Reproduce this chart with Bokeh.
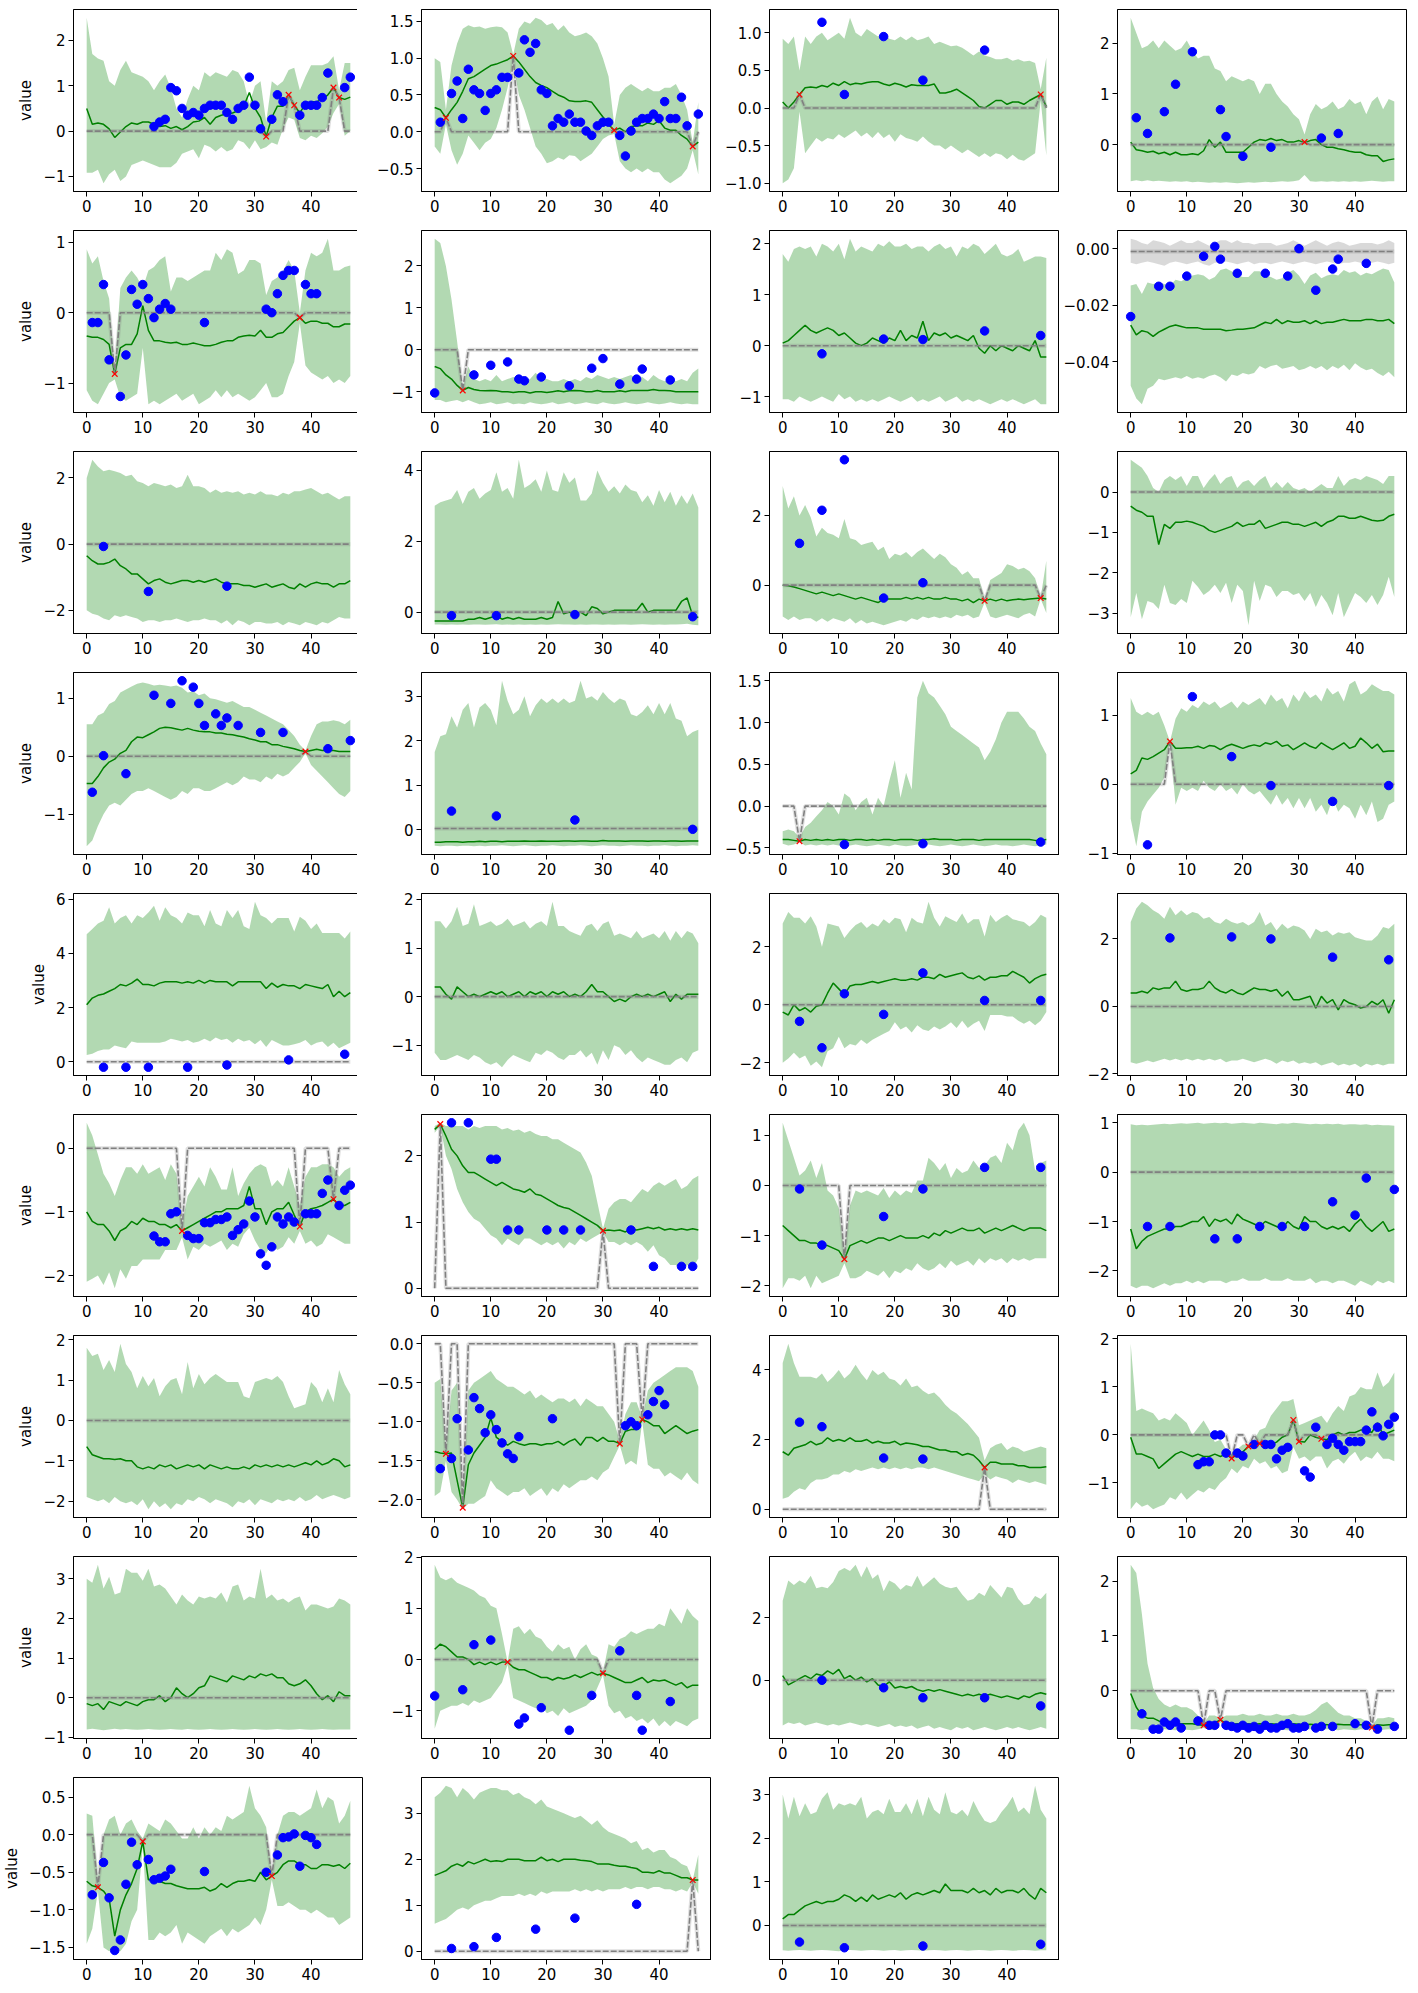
from bokeh.plotting import figure
from bokeh.layouts import gridplot
from bokeh.models import Range1d, FixedTicker, CustomJSTickFormatter
from bokeh.embed import file_html
from bokeh.resources import INLINE

STEPS = list(range(48))
X_TICKS = [0, 10, 20, 30, 40]

# ---------------- panel 1 ----------------
p01_mean = [0.50, 0.15, 0.18, 0.15, 0.05, -0.14, -0.02, 0.10, 0.18, 0.15, 0.20, 0.20, 0.15, 0.10, 0.12, 0.06,
            0.10, 0.03, 0.10, 0.20, 0.22, 0.30, 0.15, 0.30, 0.35, 0.38, 0.40, 0.45, 0.55, 0.85, 0.50, 0.30,
            -0.12, 0.30, 0.55, 0.55, 0.80, 0.57, 0.40, 0.60, 0.65, 0.65, 0.70, 0.80, 0.96, 0.74, 0.70, 0.75]
p01_upper = [2.50, 1.70, 1.60, 1.55, 1.10, 1.00, 1.35, 1.55, 1.30, 1.25, 1.20, 1.10, 0.90, 1.10, 1.25, 0.95,
             0.50, 0.30, 0.70, 1.00, 0.90, 1.30, 1.20, 1.30, 1.25, 1.20, 1.35, 1.30, 1.10, 0.60, 1.00, 1.10,
             0.20, 1.10, 1.00, 1.10, 1.35, 1.40, 0.90, 1.20, 1.45, 1.45, 1.45, 1.50, 1.65, 0.90, 1.50, 1.50]
p01_lower = [-0.92, -0.92, -0.85, -1.15, -0.95, -0.85, -1.10, -1.00, -0.75, -0.70, -0.65, -0.70, -0.75, -0.80, -0.80, -0.80,
             -0.70, -0.50, -0.45, -0.40, -0.60, -0.30, -0.35, -0.45, -0.35, -0.45, -0.40, -0.20, -0.25, -0.40, -0.20, -0.40,
             -0.35, -0.25, -0.30, 0.05, 0.30, 0.25, -0.15, -0.20, -0.10, -0.15, -0.05, 0.10, 0.40, 0.60, -0.10, 0.00]
p01_obs_x = [12, 13, 14, 15, 16, 17, 18, 19, 20, 21, 22, 23, 24, 25, 26, 27, 28, 29, 30, 31, 33, 34, 35, 38, 39, 40, 41, 42, 43, 46, 47]
p01_obs_y = [0.10, 0.20, 0.26, 0.96, 0.89, 0.50, 0.35, 0.41, 0.35, 0.50, 0.57, 0.57, 0.57, 0.41, 0.26, 0.50, 0.57, 1.19, 0.57, 0.05,
             0.26, 0.80, 0.65, 0.35, 0.57, 0.57, 0.57, 0.74, 1.28, 0.96, 1.19]
p01_anom_x = [32, 36, 37, 44, 45]
p01_anom_y = [-0.12, 0.80, 0.57, 0.96, 0.74]
p01_yticks = [-1, 0, 1, 2]
p01_ydec = 0

# ---------------- panel 2 ----------------
p02_mean = [0.33, 0.30, 0.19, 0.30, 0.40, 0.55, 0.72, 0.75, 0.80, 0.85, 0.90, 0.92, 0.95, 0.98, 1.03, 0.95,
            0.85, 0.75, 0.67, 0.63, 0.60, 0.55, 0.50, 0.47, 0.42, 0.41, 0.41, 0.42, 0.40, 0.30, 0.20, 0.10,
            0.02, 0.05, 0.00, 0.07, 0.08, 0.08, 0.12, 0.10, 0.15, 0.05, 0.02, 0.02, -0.05, -0.10, -0.20, -0.14]
p02_upper = [1.00, 0.95, 0.30, 0.90, 1.20, 1.40, 1.45, 1.42, 1.43, 1.40, 1.42, 1.43, 1.42, 1.35, 1.05, 1.40,
             1.50, 1.47, 1.55, 1.52, 1.45, 1.48, 1.38, 1.45, 1.35, 1.30, 1.32, 1.35, 1.30, 1.20, 1.00, 0.75,
             0.10, 0.50, 0.60, 0.65, 0.60, 0.55, 0.60, 0.55, 0.55, 0.60, 0.60, 0.65, 0.50, 0.30, -0.15, 0.40]
p02_lower = [-0.20, -0.30, 0.10, -0.25, -0.45, -0.30, -0.05, -0.15, -0.25, -0.15, -0.10, 0.05, 0.30, 0.60, 0.95, 0.50,
             0.30, 0.05, -0.20, -0.30, -0.43, -0.40, -0.35, -0.38, -0.32, -0.33, -0.40, -0.35, -0.30, -0.20, -0.10, -0.05,
             -0.03, -0.40, -0.50, -0.55, -0.50, -0.55, -0.50, -0.55, -0.55, -0.65, -0.70, -0.65, -0.60, -0.50, -0.25, -0.58]
p02_obs_x = [1, 3, 4, 5, 6, 7, 8, 9, 10, 11, 12, 13, 15, 16, 17, 18, 19, 20, 21, 22, 23, 24, 25, 26, 27, 28, 29, 30, 31,
             33, 34, 35, 36, 37, 38, 39, 40, 41, 42, 43, 44, 45, 47]
p02_obs_y = [0.13, 0.52, 0.69, 0.18, 0.85, 0.57, 0.52, 0.29, 0.52, 0.57, 0.74, 0.74, 0.80, 1.25, 1.08, 1.20, 0.57, 0.52,
             0.08, 0.18, 0.13, 0.24, 0.13, 0.13, 0.01, -0.05, 0.08, 0.13, 0.13, -0.05, -0.33, 0.01, 0.13, 0.18, 0.18,
             0.24, 0.18, 0.41, 0.18, 0.18, 0.47, 0.08, 0.24]
p02_anom_x = [2, 14, 32, 46]
p02_anom_y = [0.19, 1.03, 0.02, -0.20]
p02_yticks = [-0.5, 0.0, 0.5, 1.0, 1.5]
p02_ydec = 1

# ---------------- panel 3 ----------------
p03_mean = [0.08, 0.00, 0.08, 0.18, 0.27, 0.28, 0.27, 0.30, 0.28, 0.33, 0.30, 0.35, 0.31, 0.33, 0.32, 0.34,
            0.35, 0.35, 0.32, 0.30, 0.33, 0.31, 0.28, 0.31, 0.30, 0.30, 0.30, 0.32, 0.20, 0.20, 0.22, 0.25,
            0.20, 0.15, 0.10, 0.02, 0.00, 0.05, 0.10, 0.10, 0.05, 0.08, 0.08, 0.05, 0.10, 0.14, 0.18, 0.02]
p03_upper = [0.92, 0.85, 0.95, 0.50, 0.95, 0.85, 0.95, 1.00, 0.90, 0.95, 1.00, 0.92, 1.20, 1.00, 0.95, 1.05,
             1.00, 0.95, 1.00, 0.92, 0.90, 0.95, 0.90, 0.95, 0.90, 0.92, 0.95, 0.85, 0.88, 0.85, 0.82, 0.83,
             0.80, 0.75, 0.70, 0.75, 0.70, 0.68, 0.65, 0.65, 0.67, 0.63, 0.65, 0.62, 0.63, 0.60, 0.25, 0.67]
p03_lower = [-1.00, -0.95, -0.80, -0.05, -0.60, -0.50, -0.40, -0.45, -0.40, -0.42, -0.35, -0.40, -0.35, -0.30, -0.38, -0.33,
             -0.40, -0.32, -0.40, -0.35, -0.45, -0.35, -0.40, -0.42, -0.45, -0.38, -0.45, -0.50, -0.50, -0.55, -0.50, -0.55,
             -0.60, -0.55, -0.60, -0.65, -0.60, -0.65, -0.60, -0.62, -0.68, -0.62, -0.68, -0.70, -0.65, -0.60, 0.10, -0.63]
p03_obs_x = [7, 11, 18, 25, 36]
p03_obs_y = [1.14, 0.18, 0.95, 0.37, 0.77]
p03_anom_x = [3, 46]
p03_anom_y = [0.18, 0.18]
p03_yticks = [-1.0, -0.5, 0.0, 0.5, 1.0]
p03_ydec = 1

# ---------------- panel 4 ----------------
p04_mean = [0.05, -0.10, -0.12, -0.15, -0.13, -0.18, -0.15, -0.20, -0.15, -0.20, -0.20, -0.18, -0.20, -0.12, 0.10, -0.05,
            0.05, -0.15, -0.15, -0.15, -0.15, -0.05, 0.05, 0.10, 0.08, 0.12, 0.08, 0.10, 0.05, 0.05, 0.08, 0.04,
            0.08, 0.10, 0.00, -0.05, -0.05, -0.08, -0.10, -0.13, -0.15, -0.15, -0.20, -0.22, -0.22, -0.33, -0.30, -0.28]
p04_upper = [2.50, 2.20, 1.90, 1.95, 2.05, 1.90, 2.05, 1.95, 1.85, 1.90, 2.05, 1.85, 1.70, 1.75, 1.75, 1.50,
             1.45, 1.25, 1.35, 1.30, 1.25, 1.30, 1.25, 1.00, 1.20, 1.20, 1.00, 0.85, 0.75, 0.60, 0.50, 0.20,
             0.60, 0.80, 0.70, 0.75, 0.85, 0.70, 0.75, 0.90, 0.80, 0.85, 0.60, 0.85, 0.95, 0.70, 0.90, 0.85]
p04_lower = [-0.72, -0.70, -0.72, -0.70, -0.72, -0.71, -0.72, -0.73, -0.72, -0.73, -0.72, -0.74, -0.73, -0.74, -0.75, -0.74,
             -0.75, -0.74, -0.75, -0.76, -0.75, -0.74, -0.75, -0.74, -0.73, -0.74, -0.73, -0.72, -0.73, -0.72, -0.70, -0.60,
             -0.72, -0.73, -0.72, -0.73, -0.72, -0.73, -0.72, -0.73, -0.72, -0.73, -0.72, -0.71, -0.72, -0.73, -0.72, -0.72]
p04_obs_x = [1, 3, 6, 8, 11, 16, 17, 20, 25, 34, 37]
p04_obs_y = [0.53, 0.22, 0.65, 1.19, 1.83, 0.69, 0.16, -0.23, -0.05, 0.13, 0.22]
p04_anom_x = [31]
p04_anom_y = [0.05]
p04_yticks = [0, 1, 2]
p04_ydec = 0

# ---------------- panel 5 ----------------
p05_mean = [-0.33, -0.35, -0.35, -0.38, -0.45, -0.87, -0.50, -0.45, -0.45, -0.30, 0.10, -0.25, -0.40, -0.40, -0.42, -0.43,
            -0.42, -0.45, -0.45, -0.43, -0.45, -0.47, -0.47, -0.45, -0.42, -0.40, -0.40, -0.35, -0.33, -0.32, -0.33, -0.25,
            -0.35, -0.35, -0.30, -0.28, -0.20, -0.12, -0.07, -0.15, -0.12, -0.12, -0.15, -0.15, -0.20, -0.20, -0.16, -0.16]
p05_upper = [0.90, 0.70, 0.80, 0.45, 0.20, -0.80, 0.35, 0.50, 0.60, 0.50, 0.35, 0.60, 0.65, 0.75, 0.80, 0.30,
             0.50, 0.50, 0.45, 0.50, 0.55, 0.60, 0.60, 0.85, 0.75, 0.90, 0.85, 0.55, 0.60, 0.75, 0.75, 0.70,
             0.25, 0.45, 0.50, 0.60, 0.75, 0.60, 0.00, 0.60, 0.85, 0.80, 0.85, 1.05, 0.60, 0.60, 0.65, 0.67]
p05_lower = [-1.10, -1.25, -1.30, -1.15, -1.00, -0.95, -1.20, -1.25, -1.20, -1.15, -0.50, -1.30, -1.25, -1.30, -1.25, -1.20,
             -1.15, -1.25, -1.20, -1.15, -1.30, -1.25, -1.20, -1.10, -1.20, -1.10, -1.20, -1.15, -1.20, -1.25, -1.20, -1.10,
             -1.00, -1.20, -1.20, -1.15, -0.90, -0.70, -0.15, -0.75, -0.85, -0.90, -0.95, -0.90, -1.00, -0.95, -1.00, -0.90]
p05_obs_x = [1, 2, 3, 4, 6, 7, 8, 9, 10, 11, 12, 13, 14, 15, 21, 32, 33, 34, 35, 36, 37, 39, 40, 41]
p05_obs_y = [-0.14, -0.14, 0.40, -0.67, -1.19, -0.60, 0.33, 0.12, 0.40, 0.20, -0.07, 0.05, 0.13, 0.05, -0.14, 0.05,
             0.00, 0.27, 0.53, 0.60, 0.60, 0.40, 0.27, 0.27]
p05_anom_x = [5, 38]
p05_anom_y = [-0.87, -0.07]
p05_yticks = [-1, 0, 1]
p05_ydec = 0

# ---------------- panel 6 ----------------
p06_mean = [-0.40, -0.45, -0.60, -0.70, -0.85, -0.97, -0.90, -0.95, -0.97, -0.98, -0.97, -0.98, -1.00, -1.00, -1.02, -1.00,
            -1.00, -1.03, -1.00, -1.00, -1.02, -1.00, -0.98, -1.00, -0.98, -0.97, -0.98, -1.00, -1.00, -0.97, -1.00, -1.00,
            -1.00, -0.98, -1.00, -0.97, -0.97, -0.97, -0.97, -0.95, -0.97, -0.97, -0.98, -1.00, -1.00, -1.00, -1.00, -1.00]
p06_upper = [2.65, 2.55, 2.00, 1.20, 0.20, -0.90, -0.40, -0.70, -0.75, -0.70, -0.75, -0.60, -0.75, -0.70, -0.65, -0.70,
             -0.75, -0.70, -0.55, -0.70, -0.70, -0.75, -0.75, -0.70, -0.75, -0.70, -0.75, -0.65, -0.70, -0.60, -0.65, -0.70,
             -0.65, -0.70, -0.65, -0.60, -0.70, -0.65, -0.75, -0.60, -0.70, -0.75, -0.70, -0.75, -0.70, -0.75, -0.55, -0.45]
p06_lower = [-1.20, -1.20, -1.25, -1.22, -1.20, -1.25, -1.20, -1.25, -1.30, -1.28, -1.25, -1.30, -1.28, -1.25, -1.30, -1.28,
             -1.30, -1.25, -1.28, -1.30, -1.28, -1.25, -1.30, -1.28, -1.25, -1.30, -1.28, -1.25, -1.28, -1.30, -1.25, -1.28,
             -1.30, -1.28, -1.25, -1.28, -1.30, -1.28, -1.25, -1.28, -1.30, -1.28, -1.25, -1.28, -1.30, -1.28, -1.30, -1.30]
p06_obs_x = [0, 7, 10, 13, 15, 16, 19, 24, 28, 30, 33, 36, 37, 42]
p06_obs_y = [-1.03, -0.60, -0.37, -0.29, -0.70, -0.74, -0.65, -0.86, -0.44, -0.21, -0.82, -0.70, -0.46, -0.72]
p06_anom_x = [5]
p06_anom_y = [-0.97]
p06_yticks = [-1, 0, 1, 2]
p06_ydec = 0

# ---------------- panel 7 ----------------
p07_mean = [0.05, 0.10, 0.20, 0.30, 0.40, 0.30, 0.25, 0.30, 0.35, 0.30, 0.20, 0.25, 0.15, 0.05, 0.00, 0.05,
            0.15, 0.10, 0.05, 0.15, 0.10, 0.30, 0.10, 0.20, 0.15, 0.48, 0.10, 0.25, 0.20, 0.25, 0.15, 0.20,
            0.15, 0.10, 0.20, -0.05, -0.15, 0.00, -0.10, 0.00, -0.05, -0.10, 0.00, -0.05, -0.10, 0.10, -0.22, -0.22]
p07_upper = [1.80, 1.65, 1.90, 1.95, 1.90, 1.95, 1.75, 2.00, 1.95, 1.85, 2.00, 1.70, 2.10, 1.85, 1.95, 1.90,
             1.85, 2.00, 1.95, 2.05, 1.95, 1.95, 2.00, 1.90, 1.95, 1.95, 1.85, 1.95, 2.00, 1.90, 1.95, 1.75,
             1.95, 1.90, 2.00, 1.95, 1.80, 1.90, 2.00, 1.80, 1.75, 1.80, 1.90, 1.65, 1.70, 1.75, 1.75, 1.72]
p07_lower = [-1.05, -1.05, -1.10, -1.00, -1.05, -1.10, -1.05, -1.00, -1.05, -1.10, -0.95, -1.05, -1.00, -1.10, -1.05, -1.10,
             -1.05, -1.10, -1.05, -1.00, -1.05, -1.10, -1.05, -1.00, -1.10, -1.05, -1.10, -1.05, -1.00, -1.10, -1.05, -1.00,
             -1.10, -1.05, -1.10, -1.05, -1.10, -1.15, -1.10, -1.05, -1.10, -1.05, -1.10, -1.15, -1.10, -1.05, -1.15, -1.15]
p07_obs_x = [7, 18, 25, 36, 46]
p07_obs_y = [-0.16, 0.13, 0.12, 0.29, 0.20]
p07_yticks = [-1, 0, 1, 2]
p07_ydec = 0

# ---------------- panel 8 ----------------
p08_mean = [-0.0270, -0.0305, -0.0290, -0.0295, -0.0310, -0.0295, -0.0285, -0.0275, -0.0270, -0.0275, -0.0280, -0.0280,
            -0.0280, -0.0285, -0.0285, -0.0285, -0.0285, -0.0290, -0.0288, -0.0285, -0.0285, -0.0282, -0.0280, -0.0270,
            -0.0260, -0.0265, -0.0250, -0.0265, -0.0255, -0.0260, -0.0260, -0.0255, -0.0265, -0.0255, -0.0265, -0.0260,
            -0.0260, -0.0255, -0.0250, -0.0255, -0.0255, -0.0255, -0.0250, -0.0250, -0.0255, -0.0255, -0.0250, -0.0265]
p08_upper = [-0.0130, -0.0125, -0.0160, -0.0120, -0.0125, -0.0120, -0.0125, -0.0130, -0.0110, -0.0115, -0.0105, -0.0095,
             -0.0090, -0.0095, -0.0110, -0.0100, -0.0075, -0.0070, -0.0080, -0.0095, -0.0100, -0.0100, -0.0080, -0.0080,
             -0.0095, -0.0100, -0.0110, -0.0105, -0.0085, -0.0075, -0.0095, -0.0125, -0.0095, -0.0085, -0.0105, -0.0095,
             -0.0090, -0.0095, -0.0075, -0.0085, -0.0080, -0.0095, -0.0085, -0.0090, -0.0080, -0.0070, -0.0075, -0.0120]
p08_lower = [-0.0485, -0.0530, -0.0550, -0.0495, -0.0485, -0.0460, -0.0465, -0.0460, -0.0455, -0.0460, -0.0450, -0.0460,
             -0.0455, -0.0460, -0.0450, -0.0445, -0.0455, -0.0470, -0.0445, -0.0450, -0.0440, -0.0445, -0.0440, -0.0415,
             -0.0425, -0.0415, -0.0410, -0.0425, -0.0420, -0.0415, -0.0430, -0.0425, -0.0415, -0.0425, -0.0415, -0.0430,
             -0.0415, -0.0425, -0.0410, -0.0430, -0.0405, -0.0420, -0.0430, -0.0425, -0.0440, -0.0450, -0.0435, -0.0455]
p08_grey_upper = [0.0035, 0.0030, 0.0020, 0.0015, 0.0030, 0.0025, 0.0020, 0.0010, 0.0020, 0.0030, 0.0020, 0.0020,
                  0.0030, 0.0020, 0.0010, 0.0020, 0.0030, 0.0030, 0.0020, 0.0030, 0.0020, 0.0020, 0.0015, 0.0020,
                  0.0020, 0.0020, 0.0010, 0.0015, 0.0020, 0.0030, 0.0020, 0.0010, 0.0020, 0.0030, 0.0020, 0.0010,
                  0.0020, 0.0025, 0.0020, 0.0010, 0.0015, 0.0020, 0.0020, 0.0020, 0.0015, 0.0020, 0.0030, 0.0020]
p08_grey_lower = [-0.0050, -0.0055, -0.0050, -0.0045, -0.0050, -0.0055, -0.0060, -0.0050, -0.0045, -0.0050, -0.0055, -0.0050,
                  -0.0045, -0.0055, -0.0060, -0.0050, -0.0050, -0.0045, -0.0050, -0.0055, -0.0050, -0.0045, -0.0055, -0.0050,
                  -0.0050, -0.0055, -0.0050, -0.0045, -0.0050, -0.0055, -0.0050, -0.0045, -0.0050, -0.0055, -0.0050, -0.0045,
                  -0.0050, -0.0055, -0.0050, -0.0050, -0.0045, -0.0050, -0.0055, -0.0050, -0.0045, -0.0050, -0.0055, -0.0050]
p08_obs_x = [0, 5, 7, 10, 13, 15, 16, 19, 24, 28, 30, 33, 36, 37, 42]
p08_obs_y = [-0.0240, -0.0133, -0.0133, -0.0097, -0.0027, 0.0008, -0.0037, -0.0087, -0.0087, -0.0097, 0.0000, -0.0147,
             -0.0072, -0.0037, -0.0052]
p08_base = -0.001
p08_yticks = [-0.04, -0.02, 0.0]
p08_ydec = 2

# ---------------- panel 9 ----------------
p09_mean = [-0.35, -0.50, -0.60, -0.60, -0.55, -0.45, -0.65, -0.75, -0.90, -0.90, -1.05, -1.20, -1.10, -1.05, -1.15, -1.20,
            -1.15, -1.10, -1.10, -1.15, -1.10, -1.15, -1.10, -1.05, -1.15, -1.20, -1.20, -1.20, -1.25, -1.25, -1.30, -1.25,
            -1.20, -1.30, -1.25, -1.20, -1.30, -1.35, -1.20, -1.30, -1.20, -1.15, -1.20, -1.20, -1.30, -1.20, -1.20, -1.10]
p09_upper = [2.00, 2.55, 2.35, 2.20, 2.25, 2.20, 2.15, 2.05, 2.10, 1.90, 1.85, 1.75, 1.85, 1.80, 1.75, 1.80,
             1.70, 1.75, 2.10, 1.75, 1.75, 1.70, 1.55, 1.65, 1.55, 1.60, 1.55, 1.60, 1.50, 1.55, 1.50, 1.60,
             1.50, 1.50, 1.45, 1.55, 1.50, 1.60, 1.60, 1.65, 1.70, 1.60, 1.50, 1.55, 1.45, 1.35, 1.45, 1.45]
p09_lower = [-2.00, -2.10, -2.15, -2.25, -2.30, -2.15, -2.20, -2.15, -2.20, -2.25, -2.35, -2.30, -2.30, -2.35, -2.30, -2.30,
             -2.25, -2.30, -2.35, -2.30, -2.30, -2.25, -2.30, -2.30, -2.40, -2.30, -2.45, -2.30, -2.35, -2.45, -2.35, -2.35,
             -2.40, -2.40, -2.35, -2.45, -2.35, -2.40, -2.45, -2.35, -2.40, -2.45, -2.35, -2.40, -2.30, -2.20, -2.25, -2.25]
p09_obs_x = [3, 11, 25]
p09_obs_y = [-0.07, -1.43, -1.27]
p09_yticks = [-2, 0, 2]
p09_ydec = 0

# ---------------- panel 10 ----------------
p10_mean = [-0.25, -0.25, -0.25, -0.25, -0.25, -0.25, -0.20, -0.20, -0.15, -0.20, -0.15, -0.10, -0.20, -0.15, -0.20, -0.15,
            -0.20, -0.20, -0.20, -0.15, -0.20, -0.15, 0.30, -0.05, 0.00, -0.05, 0.00, -0.10, 0.15, 0.10, -0.05, 0.00,
            0.05, 0.05, 0.05, 0.05, 0.05, 0.25, 0.00, 0.05, 0.05, 0.05, 0.05, 0.05, 0.30, 0.40, -0.10, -0.15]
p10_upper = [3.00, 3.10, 3.15, 3.20, 3.45, 3.05, 3.40, 3.50, 3.20, 3.35, 3.45, 3.95, 3.40, 3.50, 3.20, 4.30,
             3.50, 3.60, 3.75, 3.40, 4.00, 3.45, 3.40, 3.95, 3.65, 3.80, 3.15, 3.15, 3.35, 4.00, 3.65, 3.40,
             3.55, 3.35, 3.60, 3.45, 3.40, 3.10, 3.30, 3.00, 3.45, 3.10, 3.40, 3.00, 3.30, 3.05, 3.35, 2.95]
p10_lower = [-0.35, -0.35, -0.36, -0.35, -0.36, -0.35, -0.36, -0.35, -0.35, -0.36, -0.35, -0.34, -0.36, -0.35, -0.36, -0.35,
             -0.36, -0.35, -0.36, -0.35, -0.36, -0.35, -0.34, -0.35, -0.35, -0.36, -0.35, -0.36, -0.35, -0.35, -0.36, -0.35,
             -0.36, -0.35, -0.35, -0.36, -0.35, -0.34, -0.35, -0.36, -0.35, -0.36, -0.35, -0.35, -0.34, -0.33, -0.36, -0.37]
p10_obs_x = [3, 11, 25, 46]
p10_obs_y = [-0.10, -0.10, -0.07, -0.13]
p10_yticks = [0, 2, 4]
p10_ydec = 0

# ---------------- panel 11 ----------------
p11_mean = [0.00, -0.02, -0.05, -0.10, -0.15, -0.20, -0.25, -0.20, -0.25, -0.30, -0.25, -0.30, -0.35, -0.40, -0.35, -0.40,
            -0.45, -0.50, -0.40, -0.40, -0.40, -0.40, -0.35, -0.40, -0.35, -0.40, -0.35, -0.40, -0.40, -0.35, -0.40, -0.40,
            -0.45, -0.40, -0.50, -0.40, -0.45, -0.40, -0.45, -0.40, -0.45, -0.42, -0.40, -0.42, -0.40, -0.38, -0.37, -0.40]
p11_upper = [2.85, 2.20, 2.55, 2.00, 2.30, 1.95, 1.40, 1.65, 1.50, 1.45, 1.35, 1.90, 1.35, 1.30, 1.15, 1.20,
             1.25, 1.00, 1.10, 0.75, 0.90, 0.85, 0.95, 0.80, 0.95, 1.05, 0.90, 0.75, 0.90, 0.80, 0.60, 0.50,
             0.30, 0.40, 0.20, 0.20, -0.40, 0.15, 0.25, 0.35, 0.60, 0.55, 0.45, 0.50, 0.40, 0.20, -0.35, 0.70]
p11_lower = [-0.90, -1.00, -0.90, -1.00, -0.95, -0.95, -1.05, -0.95, -1.05, -0.95, -1.00, -1.05, -0.95, -1.10, -1.00, -1.10,
             -1.05, -1.10, -1.15, -1.10, -1.05, -1.00, -1.05, -0.95, -1.00, -0.90, -0.95, -0.90, -0.95, -0.90, -0.95, -0.85,
             -0.90, -0.85, -0.95, -0.90, -0.50, -0.90, -0.95, -0.90, -0.85, -0.90, -0.95, -0.85, -0.80, -0.90, -0.40, -0.80]
p11_obs_x = [3, 7, 11, 18, 25]
p11_obs_y = [1.20, 2.15, 3.60, -0.37, 0.07]
p11_anom_x = [36, 46]
p11_anom_y = [-0.45, -0.37]
p11_yticks = [0, 2]
p11_ydec = 0

# ---------------- panel 12 ----------------
p12_mean = [-0.35, -0.45, -0.50, -0.60, -0.60, -1.30, -0.80, -0.90, -0.75, -0.75, -0.72, -0.75, -0.80, -0.85, -0.95, -1.00,
            -0.95, -0.90, -0.85, -0.75, -0.85, -0.80, -0.80, -0.70, -0.90, -0.85, -0.80, -0.75, -0.75, -0.80, -0.80, -0.85,
            -0.80, -0.75, -0.85, -0.75, -0.70, -0.60, -0.60, -0.65, -0.65, -0.60, -0.65, -0.70, -0.72, -0.70, -0.60, -0.55]
p12_upper = [0.80, 0.70, 0.60, 0.40, 0.10, 0.00, 0.30, 0.40, 0.30, 0.40, 0.15, 0.40, 0.40, 0.10, 0.30, 0.45,
             0.20, 0.35, 0.40, 0.10, 0.25, 0.30, 0.15, 0.30, 0.40, 0.10, 0.25, 0.10, 0.25, 0.10, 0.05, 0.10,
             0.00, 0.10, 0.20, 0.10, 0.10, 0.40, 0.15, 0.30, 0.35, 0.30, 0.40, 0.35, 0.30, 0.20, 0.40, 0.40]
p12_lower = [-3.10, -2.50, -3.15, -2.70, -2.75, -2.90, -2.30, -2.75, -2.80, -2.65, -2.75, -2.20, -2.35, -2.55, -2.45, -2.30,
             -2.50, -2.25, -2.75, -2.30, -2.45, -3.30, -2.20, -2.70, -2.30, -2.35, -2.60, -2.45, -2.45, -2.55, -2.50, -2.70,
             -2.50, -2.85, -2.55, -2.75, -3.05, -2.50, -3.10, -2.80, -2.50, -2.60, -2.75, -2.55, -2.80, -2.55, -2.10, -2.60]
p12_yticks = [-3, -2, -1, 0]
p12_ydec = 0

# ---------------- panel 13 ----------------
p13_mean = [-0.47, -0.47, -0.35, -0.20, -0.10, -0.05, 0.05, 0.10, 0.25, 0.33, 0.32, 0.37, 0.42, 0.48, 0.50, 0.49,
            0.47, 0.45, 0.48, 0.45, 0.43, 0.42, 0.42, 0.40, 0.40, 0.38, 0.37, 0.35, 0.33, 0.30, 0.28, 0.25,
            0.25, 0.20, 0.20, 0.17, 0.15, 0.13, 0.10, 0.08, 0.10, 0.12, 0.10, 0.10, 0.10, 0.08, 0.08, 0.08]
p13_upper = [0.55, 0.55, 0.70, 0.75, 0.90, 0.95, 1.10, 1.15, 1.20, 1.25, 1.27, 1.25, 1.22, 1.23, 1.22, 1.20,
             1.22, 1.18, 1.10, 1.12, 1.05, 1.08, 1.00, 0.98, 0.95, 0.92, 0.95, 0.90, 0.85, 0.85, 0.80, 0.75,
             0.70, 0.65, 0.60, 0.55, 0.45, 0.35, 0.20, 0.10, 0.35, 0.55, 0.60, 0.60, 0.62, 0.60, 0.55, 0.63]
p13_lower = [-1.55, -1.45, -1.20, -1.00, -0.85, -0.80, -0.85, -0.75, -0.65, -0.60, -0.60, -0.55, -0.60, -0.65, -0.70, -0.75,
             -0.70, -0.60, -0.65, -0.55, -0.55, -0.60, -0.60, -0.55, -0.50, -0.45, -0.50, -0.45, -0.35, -0.40, -0.40, -0.45,
             -0.35, -0.40, -0.30, -0.35, -0.30, -0.20, -0.10, 0.05, -0.15, -0.25, -0.35, -0.45, -0.55, -0.65, -0.70, -0.60]
p13_obs_x = [1, 3, 7, 12, 15, 17, 19, 20, 21, 23, 24, 25, 27, 31, 35, 43, 47]
p13_obs_y = [-0.62, 0.01, -0.30, 1.05, 0.91, 1.30, 1.19, 0.91, 0.53, 0.73, 0.53, 0.66, 0.53, 0.41, 0.41, 0.13, 0.27]
p13_anom_x = [39]
p13_anom_y = [0.08]
p13_yticks = [-1, 0, 1]
p13_ydec = 0

# ---------------- panel 14 ----------------
p14_mean = [-0.28, -0.28, -0.27, -0.27, -0.27, -0.28, -0.27, -0.27, -0.26, -0.27, -0.26, -0.26, -0.27, -0.26, -0.26, -0.26,
            -0.25, -0.26, -0.26, -0.25, -0.26, -0.26, -0.26, -0.25, -0.25, -0.26, -0.25, -0.25, -0.26, -0.26, -0.24, -0.25,
            -0.25, -0.25, -0.26, -0.25, -0.25, -0.25, -0.26, -0.25, -0.25, -0.26, -0.25, -0.25, -0.26, -0.25, -0.25, -0.25]
p14_upper = [1.75, 2.10, 2.15, 2.55, 2.30, 2.70, 2.85, 2.30, 2.75, 2.85, 2.70, 2.35, 3.35, 2.90, 2.60, 2.70,
             3.00, 2.55, 2.80, 2.95, 2.85, 2.95, 2.85, 2.95, 2.85, 2.90, 3.35, 2.95, 3.00, 2.90, 3.10, 2.95,
             2.85, 2.95, 2.90, 2.60, 2.55, 2.65, 2.80, 2.60, 2.85, 2.60, 2.85, 2.50, 2.45, 2.10, 2.20, 2.25]
p14_lower = [-0.36, -0.37, -0.36, -0.36, -0.37, -0.36, -0.36, -0.37, -0.36, -0.37, -0.36, -0.36, -0.35, -0.36, -0.37, -0.36,
             -0.35, -0.36, -0.37, -0.36, -0.36, -0.35, -0.36, -0.37, -0.36, -0.36, -0.35, -0.36, -0.37, -0.36, -0.35, -0.36,
             -0.36, -0.37, -0.36, -0.35, -0.36, -0.36, -0.37, -0.36, -0.36, -0.35, -0.36, -0.37, -0.36, -0.36, -0.35, -0.36]
p14_obs_x = [3, 11, 25, 46]
p14_obs_y = [0.42, 0.31, 0.22, 0.01]
p14_base = 0.03
p14_yticks = [0, 1, 2, 3]
p14_ydec = 0

# ---------------- panel 15 ----------------
p15_mean = [-0.40, -0.40, -0.41, -0.42, -0.40, -0.41, -0.40, -0.41, -0.40, -0.41, -0.40, -0.40, -0.41, -0.40, -0.40, -0.41,
            -0.40, -0.41, -0.40, -0.40, -0.41, -0.40, -0.40, -0.40, -0.41, -0.40, -0.40, -0.39, -0.40, -0.40, -0.40, -0.41,
            -0.40, -0.40, -0.40, -0.41, -0.40, -0.40, -0.40, -0.40, -0.40, -0.40, -0.40, -0.40, -0.40, -0.41, -0.41, -0.40]
p15_upper = [-0.30, -0.28, -0.30, -0.38, -0.25, -0.20, -0.12, -0.05, 0.05, 0.00, -0.10, 0.15, 0.10, -0.05, 0.05, 0.10,
             -0.10, 0.10, 0.00, 0.30, 0.55, 0.10, 0.40, 0.20, 1.30, 1.50, 1.35, 1.30, 1.20, 1.10, 0.95, 0.90,
             0.85, 0.80, 0.75, 0.70, 0.55, 0.65, 0.80, 1.00, 1.13, 1.13, 1.13, 1.05, 0.95, 0.90, 0.75, 0.62]
p15_lower = [-0.45, -0.47, -0.46, -0.43, -0.47, -0.46, -0.47, -0.46, -0.47, -0.46, -0.47, -0.48, -0.47, -0.46, -0.47, -0.48,
             -0.47, -0.46, -0.47, -0.48, -0.46, -0.47, -0.48, -0.47, -0.46, -0.47, -0.46, -0.47, -0.48, -0.47, -0.46, -0.47,
             -0.48, -0.47, -0.46, -0.47, -0.48, -0.47, -0.46, -0.47, -0.47, -0.48, -0.47, -0.46, -0.47, -0.48, -0.47, -0.46]
p15_obs_x = [11, 25, 46]
p15_obs_y = [-0.46, -0.45, -0.43]
p15_anom_x = [3]
p15_anom_y = [-0.42]
p15_yticks = [-0.5, 0.0, 0.5, 1.0, 1.5]
p15_ydec = 1

# ---------------- panel 16 ----------------
p16_mean = [0.15, 0.20, 0.38, 0.36, 0.40, 0.45, 0.50, 0.62, 0.52, 0.52, 0.53, 0.53, 0.55, 0.52, 0.56, 0.55,
            0.50, 0.55, 0.58, 0.55, 0.52, 0.55, 0.57, 0.55, 0.60, 0.58, 0.62, 0.55, 0.57, 0.50, 0.55, 0.60,
            0.55, 0.52, 0.60, 0.55, 0.50, 0.55, 0.60, 0.52, 0.55, 0.67, 0.60, 0.52, 0.58, 0.47, 0.48, 0.48]
p16_upper = [1.25, 1.05, 1.00, 1.05, 1.00, 1.05, 0.85, 0.62, 0.95, 1.10, 1.05, 1.15, 1.10, 1.20, 1.15, 1.20,
             1.10, 1.15, 1.20, 1.10, 1.20, 1.15, 1.20, 1.25, 1.15, 1.30, 1.20, 1.25, 1.10, 1.30, 1.20, 1.35,
             1.25, 1.30, 1.20, 1.40, 1.30, 1.35, 1.20, 1.45, 1.50, 1.30, 1.35, 1.45, 1.40, 1.35, 1.35, 1.30]
p16_lower = [-0.50, -0.90, -0.40, -0.25, -0.15, -0.05, 0.10, 0.60, -0.30, -0.05, -0.10, -0.05, -0.10, 0.05, -0.05, -0.10,
             0.00, -0.10, -0.05, -0.15, 0.00, -0.10, -0.15, -0.10, -0.20, -0.30, -0.15, -0.30, -0.20, -0.35, -0.20, -0.35,
             -0.20, -0.40, -0.30, -0.45, -0.20, -0.40, -0.30, -0.35, -0.50, -0.30, -0.45, -0.25, -0.55, -0.50, -0.30, -0.25]
p16_obs_x = [3, 11, 18, 25, 36, 46]
p16_obs_y = [-0.88, 1.27, 0.40, -0.02, -0.25, -0.02]
p16_anom_x = [7]
p16_anom_y = [0.62]
p16_yticks = [-1, 0, 1]
p16_ydec = 0

# ---------------- panel 17 ----------------
p17_mean = [2.10, 2.35, 2.45, 2.50, 2.60, 2.70, 2.85, 2.80, 2.90, 3.05, 2.85, 2.85, 2.80, 2.90, 2.95, 2.95,
            2.95, 2.90, 2.95, 2.90, 3.00, 2.90, 3.00, 2.95, 2.95, 2.95, 2.80, 2.95, 2.95, 2.95, 2.95, 2.95,
            2.70, 2.90, 2.75, 2.85, 2.80, 2.80, 2.70, 2.85, 2.80, 2.75, 2.70, 2.85, 2.40, 2.60, 2.40, 2.55]
p17_upper = [4.70, 4.90, 5.10, 5.20, 5.70, 5.10, 5.30, 5.40, 5.10, 5.40, 5.30, 5.50, 5.75, 5.20, 5.70, 5.40,
             5.30, 5.10, 5.50, 5.40, 5.40, 5.00, 5.60, 5.10, 5.00, 5.60, 5.30, 5.60, 5.00, 4.90, 5.90, 5.40,
             5.30, 5.10, 5.30, 5.30, 5.30, 4.80, 5.35, 5.20, 4.90, 5.10, 4.75, 4.75, 4.75, 4.75, 4.55, 4.80]
p17_lower = [0.25, 0.30, 0.40, 0.45, 0.45, 0.60, 0.55, 0.50, 0.75, 0.70, 0.70, 0.70, 0.70, 0.70, 0.75, 0.85,
             0.80, 0.75, 0.80, 0.70, 0.75, 0.85, 0.75, 0.90, 0.80, 0.85, 0.70, 0.85, 0.75, 0.80, 0.65, 0.80,
             0.55, 0.80, 0.70, 0.60, 0.60, 0.65, 0.70, 0.80, 0.60, 0.70, 0.75, 0.55, 0.70, 0.50, 0.60, 0.70]
p17_obs_x = [3, 7, 11, 18, 25, 36, 46]
p17_obs_y = [-0.20, -0.20, -0.20, -0.20, -0.12, 0.07, 0.28]
p17_yticks = [0, 2, 4, 6]
p17_ydec = 0

# ---------------- panel 18 ----------------
p18_mean = [0.20, 0.20, 0.05, -0.05, 0.20, 0.10, 0.00, 0.05, 0.00, 0.05, 0.10, 0.05, 0.10, 0.00, 0.05, 0.10,
            0.00, 0.10, 0.05, 0.10, 0.00, 0.10, 0.05, 0.10, 0.00, 0.05, 0.00, 0.10, 0.25, 0.10, 0.10, 0.00,
            -0.10, -0.05, -0.10, 0.00, 0.05, 0.00, 0.05, 0.00, 0.05, 0.10, -0.10, 0.05, -0.05, 0.05, 0.05, 0.05]
p18_upper = [1.55, 1.55, 1.40, 1.55, 1.85, 1.45, 1.50, 1.90, 1.45, 1.50, 1.55, 1.45, 1.50, 1.60, 1.45, 1.50,
             1.55, 1.40, 1.50, 1.55, 1.45, 1.95, 1.45, 1.45, 1.35, 1.30, 1.25, 1.45, 1.50, 1.35, 1.50, 1.55,
             1.25, 1.30, 1.25, 1.20, 1.35, 1.20, 1.25, 1.30, 1.20, 1.35, 1.15, 1.35, 1.20, 1.35, 1.30, 1.10]
p18_lower = [-1.15, -1.30, -1.30, -1.25, -1.20, -1.25, -1.30, -1.20, -1.25, -1.35, -1.40, -1.35, -1.45, -1.30, -1.20, -1.25,
             -1.30, -1.35, -1.15, -1.20, -1.10, -1.15, -1.25, -1.30, -1.20, -1.20, -1.10, -1.25, -1.15, -1.40, -1.10, -1.30,
             -1.00, -1.05, -1.20, -1.10, -1.25, -1.35, -1.25, -1.30, -1.35, -1.40, -1.40, -1.30, -1.25, -1.35, -1.15, -1.10]
p18_yticks = [-1, 0, 1, 2]
p18_ydec = 0

# ---------------- panel 19 ----------------
p19_mean = [-0.25, -0.35, 0.00, -0.20, -0.10, -0.25, -0.05, 0.00, 0.40, 0.75, 0.55, 0.35, 0.65, 0.70, 0.70, 0.75,
            0.80, 0.75, 0.80, 0.85, 0.90, 0.85, 0.85, 0.90, 0.85, 0.95, 0.95, 0.90, 1.05, 0.95, 1.00, 1.05,
            1.10, 0.95, 0.90, 1.00, 0.85, 0.95, 0.95, 1.00, 1.00, 1.15, 1.05, 0.95, 0.75, 0.90, 1.00, 1.05]
p19_upper = [2.80, 3.20, 3.00, 3.00, 2.80, 3.05, 2.70, 2.00, 2.80, 2.75, 2.70, 2.30, 2.55, 2.75, 2.85, 2.65,
             2.80, 2.70, 2.95, 2.80, 3.00, 2.95, 2.50, 3.00, 2.85, 2.80, 3.55, 3.00, 2.70, 3.05, 2.95, 2.85,
             3.15, 2.80, 2.95, 2.95, 2.35, 3.10, 2.85, 3.00, 3.10, 2.95, 2.90, 2.85, 2.70, 2.85, 3.10, 3.00]
p19_lower = [-2.00, -1.85, -1.65, -1.85, -1.75, -2.10, -1.95, -2.15, -1.60, -1.50, -1.10, -1.50, -1.35, -1.40, -1.20, -1.35,
             -1.20, -1.10, -1.00, -0.90, -0.60, -0.85, -0.75, -0.95, -0.70, -0.85, -0.90, -0.75, -0.85, -0.75, -0.60, -0.80,
             -0.55, -0.80, -0.65, -0.55, -0.90, -0.35, -0.35, -0.35, -0.40, -0.40, -0.55, -0.65, -0.55, -0.70, -0.55, -0.25]
p19_obs_x = [3, 7, 11, 18, 25, 36, 46]
p19_obs_y = [-0.57, -1.48, 0.38, -0.33, 1.10, 0.15, 0.15]
p19_yticks = [-2, 0, 2]
p19_ydec = 0

# ---------------- panel 20 ----------------
p20_mean = [0.40, 0.40, 0.45, 0.40, 0.55, 0.50, 0.55, 0.55, 0.75, 0.50, 0.45, 0.50, 0.50, 0.55, 0.75, 0.55,
            0.45, 0.40, 0.50, 0.40, 0.35, 0.45, 0.55, 0.50, 0.50, 0.45, 0.50, 0.30, 0.45, 0.20, 0.20, 0.25,
            0.30, -0.05, 0.30, 0.10, 0.20, -0.10, 0.20, 0.10, 0.05, -0.05, 0.00, 0.15, 0.05, 0.20, -0.20, 0.20]
p20_upper = [2.50, 2.90, 3.10, 3.00, 2.85, 2.75, 2.60, 2.95, 2.70, 2.85, 2.70, 2.80, 2.75, 2.60, 2.65, 2.50,
             2.45, 2.60, 2.50, 2.45, 2.50, 2.40, 2.50, 2.80, 2.40, 2.50, 2.25, 2.45, 2.30, 2.40, 2.35, 2.25,
             2.00, 2.30, 2.20, 2.25, 2.10, 2.20, 2.15, 2.20, 2.05, 2.00, 1.95, 1.95, 2.10, 2.35, 2.30, 2.45]
p20_lower = [-1.65, -1.70, -1.65, -1.60, -1.65, -1.60, -1.55, -1.60, -1.55, -1.60, -1.55, -1.60, -1.55, -1.60, -1.55, -1.60,
             -1.55, -1.65, -1.60, -1.60, -1.55, -1.60, -1.65, -1.60, -1.55, -1.60, -1.70, -1.60, -1.65, -1.60, -1.70, -1.65,
             -1.70, -1.65, -1.75, -1.70, -1.65, -1.75, -1.70, -1.75, -1.70, -1.80, -1.70, -1.75, -1.70, -1.75, -1.70, -1.70]
p20_obs_x = [7, 18, 25, 36, 46]
p20_obs_y = [2.03, 2.06, 2.00, 1.46, 1.38]
p20_yticks = [-2, 0, 2]
p20_ydec = 0

# ---------------- panel 21 ----------------
p21_mean = [-1.00, -1.15, -1.20, -1.20, -1.30, -1.45, -1.30, -1.25, -1.15, -1.20, -1.10, -1.15, -1.15, -1.20, -1.20, -1.25,
            -1.20, -1.30, -1.25, -1.20, -1.15, -1.10, -1.05, -1.00, -1.00, -0.95, -0.95, -0.95, -0.90, -0.60, -0.95, -0.95,
            -1.20, -1.00, -0.95, -0.95, -0.85, -1.05, -1.23, -1.00, -0.95, -0.93, -0.90, -0.85, -0.80, -0.90, -0.90, -0.85]
p21_upper = [0.40, 0.20, -0.10, -0.40, -0.55, -0.75, -0.50, -0.30, -0.30, -0.40, -0.25, -0.40, -0.35, -0.30, -0.50, -0.25,
             -0.40, -1.20, -0.75, -0.60, -0.45, -0.60, -0.30, -0.45, -0.65, -0.65, -0.30, -0.75, -0.55, -0.40, -0.30, -0.25,
             -0.30, -0.60, -0.50, -0.60, -0.30, -0.60, -0.90, -0.45, -0.30, -0.30, -0.25, -0.25, -0.30, -0.45, -0.35, -0.30]
p21_lower = [-2.10, -2.05, -2.00, -2.15, -1.95, -2.20, -1.90, -2.05, -1.85, -1.85, -1.75, -1.75, -1.75, -1.75, -1.60, -1.60,
             -1.60, -1.40, -1.75, -1.55, -1.60, -1.50, -1.55, -1.50, -1.45, -1.60, -1.50, -1.55, -1.35, -1.25, -1.45, -1.60,
             -1.65, -1.50, -1.60, -1.55, -1.40, -1.50, -1.30, -1.50, -1.45, -1.55, -1.50, -1.35, -1.40, -1.45, -1.50, -1.50]
p21_obs_x = [12, 13, 14, 15, 16, 18, 19, 20, 21, 22, 23, 24, 25, 26, 27, 28, 29, 30, 31, 32, 33, 34, 35, 36, 37,
             39, 40, 41, 42, 43, 45, 46, 47]
p21_obs_y = [-1.38, -1.47, -1.47, -1.03, -1.00, -1.37, -1.42, -1.42, -1.17, -1.17, -1.12, -1.12, -1.08, -1.37, -1.28,
             -1.19, -0.83, -1.08, -1.66, -1.84, -1.55, -1.08, -1.19, -1.08, -1.16, -1.03, -1.03, -1.03, -0.71, -0.50,
             -0.90, -0.66, -0.58]
p21_anom_x = [17, 38, 44]
p21_anom_y = [-1.30, -1.23, -0.80]
p21_yticks = [-2, -1, 0]
p21_ydec = 0

# ---------------- panel 22 ----------------
p22_mean = [2.40, 2.48, 2.30, 2.10, 2.00, 1.85, 1.75, 1.75, 1.70, 1.65, 1.60, 1.55, 1.60, 1.55, 1.50, 1.48,
            1.45, 1.50, 1.42, 1.40, 1.35, 1.30, 1.25, 1.22, 1.20, 1.15, 1.10, 1.05, 1.00, 0.95, 0.87, 0.88,
            0.87, 0.88, 0.85, 0.90, 0.88, 0.90, 0.92, 0.90, 0.92, 0.88, 0.90, 0.88, 0.90, 0.88, 0.90, 0.88]
p22_upper = [2.45, 2.50, 2.45, 2.45, 2.45, 2.45, 2.40, 2.45, 2.42, 2.45, 2.45, 2.45, 2.40, 2.42, 2.38, 2.40,
             2.35, 2.38, 2.33, 2.30, 2.30, 2.25, 2.25, 2.20, 2.15, 2.10, 2.05, 1.90, 1.70, 1.30, 0.90, 1.20,
             1.30, 1.35, 1.35, 1.30, 1.40, 1.50, 1.45, 1.55, 1.60, 1.55, 1.60, 1.65, 1.50, 1.55, 1.65, 1.70]
p22_lower = [2.35, 2.45, 2.00, 1.80, 1.50, 1.30, 1.15, 1.05, 1.00, 0.90, 0.80, 0.75, 0.65, 0.75, 0.70, 0.65,
             0.75, 0.75, 0.70, 0.65, 0.70, 0.65, 0.70, 0.60, 0.70, 0.65, 0.75, 0.70, 0.75, 0.80, 0.85, 0.70,
             0.70, 0.65, 0.70, 0.65, 0.70, 0.65, 0.55, 0.65, 0.50, 0.45, 0.35, 0.35, 0.25, 0.35, 0.30, 0.45]
p22_obs_x = [3, 6, 10, 11, 13, 15, 20, 23, 26, 35, 39, 44, 46]
p22_obs_y = [2.50, 2.50, 1.95, 1.95, 0.88, 0.88, 0.88, 0.88, 0.88, 0.88, 0.33, 0.33, 0.33]
p22_anom_x = [1, 30]
p22_anom_y = [2.48, 0.87]
p22_yticks = [0, 1, 2]
p22_ydec = 0

# ---------------- panel 23 ----------------
p23_mean = [-0.80, -0.90, -1.00, -1.10, -1.10, -1.15, -1.15, -1.20, -1.20, -1.25, -1.30, -1.47, -1.20, -1.15, -1.10, -1.15,
            -1.10, -1.05, -1.05, -1.10, -1.05, -1.00, -1.05, -1.05, -1.05, -1.00, -1.05, -0.95, -1.00, -0.90, -0.95, -0.90,
            -0.85, -0.90, -0.90, -0.85, -0.95, -0.90, -0.85, -0.90, -0.85, -0.80, -0.85, -0.90, -0.85, -0.85, -0.85, -0.90]
p23_upper = [1.25, 0.90, 0.55, 0.20, 0.30, 0.50, 0.15, 0.45, -0.10, -0.20, -0.45, -1.35, -0.40, -0.10, -0.15, -0.10,
             -0.15, -0.20, -0.05, -0.25, -0.10, -0.20, -0.10, -0.15, 0.10, 0.10, 0.55, 0.45, 0.30, 0.45, 0.15, 0.35,
             0.25, 0.30, 0.50, 0.35, 0.40, 0.55, 0.60, 0.45, 0.85, 0.70, 1.10, 1.25, 1.00, 0.30, 0.45, 0.50]
p23_lower = [-2.05, -1.85, -1.85, -1.90, -1.80, -2.05, -1.80, -1.95, -1.90, -1.85, -1.80, -1.55, -1.85, -1.85, -1.80, -1.70,
             -1.75, -1.80, -1.70, -1.85, -1.70, -1.75, -1.65, -1.70, -1.55, -1.65, -1.70, -1.65, -1.55, -1.65, -1.50, -1.60,
             -1.55, -1.50, -1.60, -1.45, -1.55, -1.45, -1.50, -1.45, -1.55, -1.45, -1.50, -1.45, -1.50, -1.45, -1.45, -1.45]
p23_obs_x = [3, 7, 18, 25, 36, 46]
p23_obs_y = [-0.07, -1.19, -0.62, -0.07, 0.36, 0.36]
p23_anom_x = [11]
p23_anom_y = [-1.47]
p23_yticks = [-2, -1, 0, 1]
p23_ydec = 0

# ---------------- panel 24 ----------------
p24_mean = [-1.15, -1.55, -1.40, -1.30, -1.25, -1.20, -1.15, -1.15, -1.10, -1.10, -1.05, -1.00, -1.00, -0.90, -1.10, -0.95,
            -1.00, -0.95, -1.05, -0.85, -0.95, -1.00, -1.05, -1.10, -1.00, -1.05, -1.10, -1.15, -1.00, -1.10, -1.15, -0.90,
            -1.00, -1.00, -1.10, -1.15, -1.10, -1.15, -1.10, -1.20, -1.05, -0.95, -1.10, -1.20, -1.10, -1.00, -1.20, -1.15]
p24_upper = [0.97, 0.95, 0.96, 0.95, 0.96, 0.97, 0.98, 0.97, 0.98, 0.99, 0.98, 0.99, 1.00, 0.98, 0.99, 1.00,
             0.99, 1.00, 0.98, 0.99, 1.00, 0.99, 0.98, 1.00, 0.99, 0.98, 0.97, 0.99, 0.98, 1.00, 0.99, 0.98,
             0.97, 0.98, 0.97, 0.98, 0.97, 0.98, 0.96, 0.97, 0.97, 0.96, 0.97, 0.95, 0.96, 0.95, 0.95, 0.94]
p24_lower = [-2.30, -2.35, -2.30, -2.30, -2.35, -2.30, -2.25, -2.30, -2.25, -2.25, -2.20, -2.25, -2.20, -2.25, -2.20, -2.20,
             -2.20, -2.25, -2.20, -2.20, -2.15, -2.20, -2.20, -2.20, -2.15, -2.20, -2.20, -2.20, -2.15, -2.20, -2.20, -2.20,
             -2.15, -2.25, -2.20, -2.20, -2.25, -2.20, -2.20, -2.25, -2.30, -2.20, -2.25, -2.30, -2.20, -2.25, -2.20, -2.25]
p24_obs_x = [3, 7, 15, 19, 23, 27, 31, 36, 40, 42, 47]
p24_obs_y = [-1.10, -1.10, -1.35, -1.35, -1.10, -1.10, -1.10, -0.60, -0.87, -0.12, -0.35]
p24_yticks = [-2, -1, 0, 1]
p24_ydec = 0

# ---------------- panel 25 ----------------
p25_mean = [-0.65, -0.85, -0.90, -0.95, -0.95, -0.97, -0.95, -1.00, -1.00, -1.15, -1.20, -1.15, -1.20, -1.10, -1.15, -1.10,
            -1.20, -1.15, -1.10, -1.15, -1.10, -1.20, -1.10, -1.15, -1.20, -1.15, -1.20, -1.20, -1.15, -1.20, -1.10, -1.15,
            -1.10, -1.15, -1.10, -1.15, -1.10, -1.15, -1.10, -1.05, -1.10, -1.00, -1.10, -1.05, -0.95, -1.00, -1.15, -1.10]
p25_upper = [1.80, 1.60, 1.65, 1.25, 1.50, 1.20, 1.90, 1.40, 1.20, 0.80, 1.10, 0.85, 1.05, 0.60, 0.85, 1.00,
             1.05, 0.65, 1.45, 0.80, 1.15, 0.90, 1.05, 1.15, 1.05, 0.95, 0.95, 0.95, 0.60, 0.55, 0.95, 1.00,
             1.05, 1.00, 1.10, 0.95, 0.60, 0.30, 0.35, 0.40, 0.95, 0.80, 0.45, 0.80, 0.45, 1.25, 0.90, 0.65]
p25_lower = [-1.90, -1.95, -2.00, -1.95, -2.05, -1.90, -2.00, -2.05, -2.00, -2.10, -1.95, -2.20, -2.00, -2.15, -2.05, -2.20,
             -2.05, -2.10, -1.95, -2.00, -1.90, -1.95, -2.05, -1.95, -2.00, -2.05, -2.15, -2.00, -2.05, -1.95, -2.10, -1.95,
             -2.00, -2.05, -1.95, -2.00, -1.95, -2.00, -1.90, -2.00, -1.95, -1.85, -1.95, -1.90, -1.85, -1.90, -1.95, -1.90]
p25_yticks = [-2, -1, 0, 1, 2]
p25_ydec = 0

# ---------------- panel 26 ----------------
p26_mean = [-1.38, -1.40, -1.41, -1.40, -1.75, -2.10, -1.55, -1.40, -1.30, -1.20, -0.95, -1.20, -1.25, -1.30, -1.25, -1.28,
            -1.30, -1.28, -1.28, -1.30, -1.28, -1.28, -1.25, -1.30, -1.25, -1.22, -1.30, -1.20, -1.20, -1.25, -1.20, -1.25,
            -1.25, -1.28, -1.12, -1.10, -1.10, -0.97, -1.00, -1.05, -1.05, -1.15, -1.10, -1.05, -1.10, -1.15, -1.12, -1.10]
p26_upper = [-0.50, -0.45, -1.35, -0.60, -0.50, -2.00, -0.60, -0.50, -0.45, -0.40, -0.35, -0.45, -0.50, -0.55, -0.55, -0.60,
             -0.65, -0.60, -0.70, -0.65, -0.70, -0.75, -0.70, -0.70, -0.75, -0.70, -0.80, -0.70, -0.75, -0.80, -0.80, -0.90,
             -1.00, -1.25, -0.90, -0.75, -0.75, -0.95, -0.60, -0.50, -0.45, -0.40, -0.35, -0.30, -0.30, -0.30, -0.35, -0.55]
p26_lower = [-1.95, -1.90, -1.50, -1.90, -2.00, -2.12, -2.05, -2.05, -2.00, -1.95, -1.75, -1.85, -1.90, -1.95, -1.90, -1.90,
             -1.85, -1.95, -1.90, -1.85, -1.95, -1.85, -1.90, -1.80, -1.85, -1.80, -1.75, -1.75, -1.70, -1.75, -1.65, -1.60,
             -1.45, -1.30, -1.55, -1.50, -1.55, -1.00, -1.55, -1.60, -1.60, -1.70, -1.65, -1.70, -1.75, -1.65, -1.75, -1.80]
p26_obs_x = [1, 3, 4, 6, 7, 8, 9, 10, 11, 12, 13, 14, 15, 21, 34, 35, 36, 38, 39, 40, 41]
p26_obs_y = [-1.60, -1.47, -0.96, -1.36, -0.69, -0.83, -1.14, -0.91, -1.10, -1.27, -1.41, -1.47, -1.19, -0.96, -1.05,
             -1.00, -1.05, -0.91, -0.74, -0.60, -0.78]
p26_anom_x = [2, 5, 33, 37]
p26_anom_y = [-1.41, -2.10, -1.28, -0.97]
p26_yticks = [-2.0, -1.5, -1.0, -0.5, 0.0]
p26_ydec = 1

# ---------------- panel 27 ----------------
p27_mean = [1.65, 1.55, 1.75, 1.80, 1.85, 1.95, 1.85, 1.90, 2.05, 1.95, 2.00, 1.95, 2.05, 1.95, 1.95, 2.00,
            1.90, 1.95, 1.90, 1.90, 1.95, 1.85, 1.90, 1.88, 1.85, 1.80, 1.80, 1.75, 1.70, 1.70, 1.65, 1.65,
            1.55, 1.60, 1.55, 1.40, 1.20, 1.35, 1.35, 1.30, 1.30, 1.30, 1.25, 1.25, 1.20, 1.20, 1.20, 1.22]
p27_upper = [4.20, 4.75, 4.20, 3.80, 3.80, 3.80, 3.75, 3.90, 3.65, 3.80, 4.00, 3.75, 3.90, 4.15, 3.90, 3.70,
             4.00, 3.85, 3.95, 3.75, 3.70, 3.55, 3.75, 3.50, 3.55, 3.40, 3.30, 3.35, 3.20, 3.00, 2.85, 2.75,
             2.60, 2.45, 2.25, 2.05, 1.40, 1.75, 1.85, 1.90, 1.70, 1.80, 1.75, 1.65, 1.70, 1.75, 1.80, 1.75]
p27_lower = [0.30, 0.35, 0.50, 0.60, 0.55, 0.75, 0.85, 0.85, 0.90, 1.00, 1.00, 1.10, 1.05, 1.15, 1.10, 1.15,
             1.20, 1.15, 1.20, 1.15, 1.20, 1.15, 1.20, 1.15, 1.20, 1.20, 1.15, 1.20, 1.15, 1.10, 1.05, 1.00,
             0.95, 0.90, 0.85, 0.80, 1.00, 0.85, 0.95, 0.90, 0.85, 0.75, 0.85, 0.80, 0.75, 0.80, 0.75, 0.70]
p27_obs_x = [3, 7, 18, 25]
p27_obs_y = [2.50, 2.37, 1.47, 1.44]
p27_anom_x = [36]
p27_anom_y = [1.20]
p27_yticks = [0, 2, 4]
p27_ydec = 0

# ---------------- panel 28 ----------------
p28_mean = [-0.05, -0.40, -0.40, -0.45, -0.50, -0.70, -0.60, -0.50, -0.40, -0.35, -0.40, -0.45, -0.40, -0.45, -0.45, -0.40,
            -0.45, -0.40, -0.49, -0.40, -0.35, -0.24, -0.22, -0.18, -0.20, -0.20, -0.15, -0.05, 0.00, 0.31, -0.14, -0.15,
            0.00, -0.05, -0.08, -0.10, 0.00, 0.05, 0.00, 0.05, 0.05, 0.10, 0.10, 0.05, 0.25, 0.00, 0.05, 0.10]
p28_upper = [1.90, 0.50, 0.55, 0.50, 0.45, 0.30, 0.35, 0.30, 0.45, 0.35, 0.25, 0.00, 0.15, 0.30, 0.10, -0.15,
             -0.10, -0.30, -0.40, -0.30, -0.20, -0.20, -0.10, 0.10, 0.15, 0.40, 0.55, 0.70, 0.70, 0.75, 0.20, 0.25,
             0.30, 0.35, 0.40, 0.25, 0.45, 0.60, 0.50, 0.80, 0.85, 1.00, 0.95, 0.95, 1.30, 1.00, 1.10, 1.30]
p28_lower = [-1.55, -1.40, -1.50, -1.45, -1.55, -1.50, -1.45, -1.30, -1.35, -1.20, -1.35, -1.25, -1.15, -1.20, -1.10, -1.15,
             -1.00, -0.90, -0.70, -0.80, -0.65, -0.70, -0.50, -0.60, -0.55, -0.70, -0.65, -0.80, -0.75, -0.25, -0.50, -0.45,
             -0.55, -0.45, -0.45, -0.70, -0.55, -0.50, -0.60, -0.45, -0.35, -0.55, -0.45, -0.50, -0.35, -0.50, -0.50, -0.55]
p28_obs_x = [12, 13, 14, 15, 16, 17, 19, 20, 22, 24, 25, 26, 27, 28, 31, 32, 33, 35, 36, 37, 38, 39, 40, 41, 42,
             43, 44, 45, 46, 47]
p28_obs_y = [-0.62, -0.56, -0.56, 0.00, 0.00, -0.38, -0.38, -0.44, -0.20, -0.20, -0.20, -0.50, -0.32, -0.26, -0.75,
             -0.88, 0.16, -0.20, -0.07, -0.20, -0.32, -0.14, -0.14, -0.14, 0.10, 0.48, 0.16, -0.02, 0.22, 0.37]
p28_anom_x = [18, 21, 23, 29, 30, 34]
p28_anom_y = [-0.49, -0.24, -0.18, 0.31, -0.14, -0.08]
p28_yticks = [-1, 0, 1, 2]
p28_ydec = 0

# ---------------- panel 29 ----------------
p29_mean = [-0.15, -0.20, -0.15, -0.30, -0.10, -0.15, -0.20, -0.10, -0.15, -0.20, -0.10, -0.05, -0.05, 0.05, -0.10, 0.00,
            0.25, 0.10, 0.00, 0.10, 0.25, 0.30, 0.55, 0.50, 0.45, 0.40, 0.55, 0.50, 0.45, 0.55, 0.50, 0.60,
            0.55, 0.60, 0.50, 0.50, 0.35, 0.30, 0.35, 0.45, 0.30, 0.10, -0.05, 0.05, -0.10, 0.15, 0.05, 0.05]
p29_upper = [3.00, 2.90, 3.35, 2.75, 3.05, 2.60, 2.65, 3.25, 3.15, 3.15, 2.95, 3.25, 2.80, 2.85, 2.75, 2.55,
             2.35, 2.60, 2.45, 2.35, 2.55, 2.50, 2.55, 2.50, 2.65, 2.40, 2.80, 2.85, 2.45, 2.55, 2.50, 3.25,
             2.50, 2.60, 2.45, 2.50, 2.40, 2.50, 2.55, 2.20, 2.35, 2.35, 2.30, 2.25, 2.30, 2.50, 2.45, 2.35]
p29_lower = [-0.80, -0.78, -0.80, -0.82, -0.80, -0.78, -0.80, -0.79, -0.80, -0.81, -0.80, -0.79, -0.80, -0.81, -0.80, -0.79,
             -0.80, -0.81, -0.79, -0.80, -0.81, -0.80, -0.79, -0.80, -0.81, -0.80, -0.79, -0.80, -0.81, -0.80, -0.79, -0.80,
             -0.81, -0.80, -0.79, -0.80, -0.81, -0.80, -0.79, -0.80, -0.81, -0.80, -0.79, -0.80, -0.81, -0.80, -0.80, -0.80]
p29_yticks = [-1, 0, 1, 2, 3]
p29_ydec = 0

# ---------------- panel 30 ----------------
p30_mean = [0.20, 0.30, 0.25, 0.15, 0.05, 0.05, 0.00, -0.10, -0.05, -0.10, -0.05, -0.10, -0.05, -0.05, -0.15, -0.20,
            -0.20, -0.25, -0.30, -0.35, -0.35, -0.40, -0.35, -0.38, -0.35, -0.30, -0.35, -0.30, -0.25, -0.30, -0.27, -0.30,
            -0.35, -0.40, -0.45, -0.45, -0.40, -0.35, -0.45, -0.40, -0.42, -0.40, -0.45, -0.50, -0.45, -0.55, -0.50, -0.50]
p30_upper = [1.85, 1.60, 1.55, 1.60, 1.50, 1.45, 1.40, 1.35, 1.25, 1.20, 1.05, 1.00, 0.50, -0.05, 0.60, 0.65,
             0.50, 0.60, 0.45, 0.40, 0.25, 0.15, 0.30, 0.20, 0.25, 0.00, 0.20, 0.30, 0.10, 0.05, -0.25, 0.30,
             0.25, 0.40, 0.45, 0.55, 0.50, 0.55, 0.60, 0.60, 0.70, 0.65, 1.00, 0.85, 0.70, 1.00, 0.85, 0.75]
p30_lower = [-1.35, -1.00, -0.95, -0.90, -0.90, -0.85, -0.90, -0.80, -0.85, -0.80, -0.75, -0.60, -0.45, -0.10, -0.75, -0.80,
             -0.85, -0.90, -0.95, -0.90, -1.05, -1.00, -1.10, -0.95, -1.05, -1.00, -0.95, -0.90, -0.80, -0.55, -0.30, -0.90,
             -1.05, -1.00, -1.15, -1.10, -1.20, -1.15, -1.25, -1.15, -1.30, -1.20, -1.30, -1.20, -1.25, -1.30, -1.20, -1.15]
p30_obs_x = [0, 5, 7, 10, 15, 16, 19, 24, 28, 33, 36, 37, 42]
p30_obs_y = [-0.71, -0.59, 0.29, 0.38, -1.26, -1.14, -0.94, -1.38, -0.70, 0.17, -0.70, -1.38, -0.82]
p30_anom_x = [13, 30]
p30_anom_y = [-0.05, -0.27]
p30_yticks = [-1, 0, 1, 2]
p30_ydec = 0

# ---------------- panel 31 ----------------
p31_mean = [0.15, -0.15, -0.05, 0.05, 0.15, 0.05, 0.20, 0.15, 0.30, 0.20, 0.35, 0.05, 0.15, 0.00, 0.10, -0.05,
            0.05, -0.15, -0.20, -0.05, -0.25, -0.20, -0.25, -0.20, -0.30, -0.35, -0.30, -0.35, -0.30, -0.35, -0.40, -0.45,
            -0.50, -0.45, -0.50, -0.45, -0.50, -0.45, -0.50, -0.55, -0.50, -0.55, -0.60, -0.50, -0.55, -0.45, -0.40, -0.45]
p31_upper = [2.55, 3.20, 3.05, 3.20, 3.10, 3.35, 2.95, 3.00, 2.95, 3.15, 3.50, 3.60, 3.50, 3.70, 3.30, 3.65,
             3.25, 3.40, 2.85, 3.20, 3.10, 2.90, 3.05, 3.00, 3.35, 3.00, 3.15, 3.30, 3.10, 3.00, 2.95, 3.00,
             2.75, 2.55, 2.60, 2.80, 2.70, 3.05, 2.85, 2.65, 3.00, 2.95, 2.60, 2.40, 2.45, 2.70, 2.60, 2.80]
p31_lower = [-1.45, -1.35, -1.40, -1.35, -1.45, -1.40, -1.35, -1.40, -1.45, -1.40, -1.45, -1.40, -1.35, -1.40, -1.45, -1.40,
             -1.45, -1.50, -1.45, -1.40, -1.50, -1.45, -1.50, -1.45, -1.55, -1.50, -1.45, -1.55, -1.50, -1.55, -1.60, -1.50,
             -1.55, -1.50, -1.60, -1.55, -1.50, -1.55, -1.60, -1.55, -1.50, -1.55, -1.50, -1.55, -1.60, -1.55, -1.50, -1.55]
p31_obs_x = [7, 18, 25, 36, 46]
p31_obs_y = [0.00, -0.24, -0.56, -0.56, -0.82]
p31_yticks = [0, 2]
p31_ydec = 0

# ---------------- panel 32 ----------------
p32_mean = [-0.05, -0.30, -0.45, -0.50, -0.50, -0.55, -0.57, -0.58, -0.60, -0.60, -0.60, -0.60, -0.62, -0.63, -0.60, -0.58,
            -0.53, -0.60, -0.61, -0.60, -0.61, -0.60, -0.61, -0.60, -0.61, -0.60, -0.61, -0.62, -0.61, -0.60, -0.61, -0.62,
            -0.61, -0.62, -0.61, -0.62, -0.62, -0.61, -0.62, -0.62, -0.62, -0.62, -0.62, -0.67, -0.62, -0.63, -0.62, -0.62]
p32_upper = [2.30, 2.15, 1.40, 0.50, 0.05, -0.15, -0.25, -0.30, -0.25, -0.30, -0.30, -0.35, -0.45, -0.60, -0.45, -0.45,
             -0.50, -0.45, -0.45, -0.45, -0.42, -0.45, -0.45, -0.42, -0.45, -0.45, -0.42, -0.45, -0.45, -0.42, -0.45, -0.45,
             -0.42, -0.35, -0.25, -0.20, -0.30, -0.40, -0.45, -0.45, -0.50, -0.50, -0.55, -0.64, -0.50, -0.50, -0.48, -0.50]
p32_lower = [-0.70, -0.70, -0.72, -0.70, -0.71, -0.72, -0.70, -0.71, -0.72, -0.70, -0.71, -0.72, -0.70, -0.68, -0.71, -0.72,
             -0.58, -0.72, -0.71, -0.72, -0.70, -0.71, -0.72, -0.70, -0.71, -0.72, -0.70, -0.71, -0.72, -0.70, -0.71, -0.72,
             -0.70, -0.71, -0.72, -0.70, -0.71, -0.72, -0.70, -0.71, -0.72, -0.70, -0.71, -0.70, -0.72, -0.71, -0.70, -0.71]
p32_obs_x = [2, 4, 5, 6, 7, 8, 9, 12, 14, 15, 17, 18, 19, 20, 21, 22, 23, 24, 25, 26, 27, 28, 29, 30, 31, 33, 34, 36,
             40, 42, 44, 47]
p32_obs_y = [-0.42, -0.70, -0.70, -0.57, -0.63, -0.57, -0.68, -0.55, -0.63, -0.63, -0.63, -0.65, -0.68, -0.63, -0.68,
             -0.65, -0.70, -0.63, -0.68, -0.68, -0.63, -0.60, -0.68, -0.68, -0.65, -0.68, -0.65, -0.65, -0.60, -0.63,
             -0.70, -0.65]
p32_anom_x = [13, 16, 43]
p32_anom_y = [-0.63, -0.53, -0.67]
p32_yticks = [0, 1, 2]
p32_ydec = 0

# ---------------- panel 33 ----------------
p33_mean = [-0.62, -0.68, -0.70, -0.75, -0.85, -1.35, -1.00, -0.80, -0.65, -0.45, -0.09, -0.60, -0.60, -0.62, -0.65, -0.65,
            -0.68, -0.70, -0.72, -0.72, -0.72, -0.70, -0.75, -0.72, -0.65, -0.70, -0.65, -0.62, -0.62, -0.60, -0.62, -0.50,
            -0.60, -0.55, -0.50, -0.40, -0.35, -0.35, -0.40, -0.40, -0.45, -0.45, -0.40, -0.40, -0.42, -0.40, -0.45, -0.38]
p33_upper = [0.28, 0.25, -0.60, 0.00, 0.20, 0.25, 0.00, 0.15, 0.20, 0.05, -0.05, 0.15, 0.10, 0.05, 0.20, 0.15,
             0.05, -0.05, -0.05, 0.10, -0.05, 0.10, 0.00, 0.10, 0.05, 0.25, 0.20, 0.25, 0.30, 0.65, 0.35, 0.25,
             0.10, -0.50, 0.00, 0.25, 0.30, 0.30, 0.25, 0.30, 0.35, 0.60, 0.35, 0.50, 0.45, 0.15, 0.25, 0.45]
p33_lower = [-1.45, -1.25, -0.75, -1.50, -1.55, -1.50, -1.55, -1.45, -1.15, -1.00, -0.15, -1.40, -1.40, -1.30, -1.35, -1.30,
             -1.20, -1.45, -1.30, -1.35, -1.40, -1.45, -1.35, -1.30, -1.25, -1.35, -1.25, -1.30, -1.25, -1.20, -1.10, -1.20,
             -1.00, -0.60, -0.95, -0.95, -0.90, -0.95, -1.00, -1.00, -1.05, -1.00, -1.05, -1.10, -1.10, -1.20, -1.15, -1.10]
p33_obs_x = [1, 3, 4, 5, 6, 7, 8, 9, 11, 12, 13, 14, 15, 21, 32, 34, 35, 36, 37, 38, 39, 40, 41]
p33_obs_y = [-0.80, -0.37, -0.84, -1.54, -1.40, -0.66, -0.10, -0.40, -0.33, -0.60, -0.58, -0.55, -0.46, -0.49, -0.50,
             -0.27, -0.04, -0.03, 0.01, -0.42, -0.01, -0.04, -0.13]
p33_anom_x = [2, 10, 33]
p33_anom_y = [-0.70, -0.09, -0.55]
p33_yticks = [-1.5, -1.0, -0.5, 0.0, 0.5]
p33_ydec = 1

# ---------------- panel 34 ----------------
p34_mean = [1.65, 1.70, 1.75, 1.85, 1.90, 1.85, 1.95, 1.90, 1.95, 2.00, 1.95, 1.97, 1.95, 2.00, 2.00, 2.00,
            1.97, 1.97, 1.97, 2.05, 1.97, 2.00, 1.95, 2.00, 2.00, 2.00, 1.98, 1.97, 1.95, 1.90, 1.90, 1.90,
            1.87, 1.85, 1.85, 1.82, 1.80, 1.72, 1.72, 1.70, 1.75, 1.70, 1.70, 1.65, 1.60, 1.60, 1.55, 1.55]
p34_upper = [3.35, 3.45, 3.60, 3.55, 3.35, 3.55, 3.45, 3.30, 3.45, 3.50, 3.55, 3.55, 3.50, 3.50, 3.40, 3.45,
             3.35, 3.30, 3.20, 3.30, 3.15, 3.10, 3.05, 3.00, 2.95, 2.90, 2.95, 2.85, 2.75, 2.85, 2.70, 2.60,
             2.55, 2.50, 2.45, 2.35, 2.40, 2.20, 2.25, 2.15, 2.20, 2.20, 2.05, 2.00, 1.90, 1.85, 1.55, 2.10]
p34_lower = [0.60, 0.65, 0.70, 0.80, 0.90, 0.95, 0.90, 1.00, 1.05, 1.10, 1.10, 1.15, 1.20, 1.20, 1.20, 1.25,
             1.20, 1.25, 1.20, 1.30, 1.25, 1.30, 1.30, 1.30, 1.30, 1.35, 1.30, 1.35, 1.30, 1.35, 1.30, 1.35,
             1.35, 1.35, 1.40, 1.35, 1.40, 1.40, 1.35, 1.40, 1.40, 1.35, 1.35, 1.30, 1.35, 1.30, 1.50, 1.25]
p34_obs_x = [3, 7, 11, 18, 25, 36]
p34_obs_y = [0.06, 0.10, 0.30, 0.48, 0.72, 1.02]
p34_anom_x = [46]
p34_anom_y = [1.55]
p34_yticks = [0, 1, 2, 3]
p34_ydec = 0

# ---------------- panel 35 ----------------
p35_mean = [0.15, 0.25, 0.25, 0.35, 0.45, 0.50, 0.55, 0.50, 0.55, 0.55, 0.60, 0.70, 0.65, 0.55, 0.65, 0.55,
            0.70, 0.60, 0.65, 0.70, 0.65, 0.75, 0.60, 0.70, 0.75, 0.70, 0.75, 0.80, 0.75, 0.95, 0.80, 0.80,
            0.80, 0.75, 0.85, 0.75, 0.80, 0.70, 0.85, 0.75, 0.80, 0.80, 0.75, 0.85, 0.70, 0.60, 0.85, 0.75]
p35_upper = [3.00, 2.45, 2.95, 2.50, 2.80, 2.55, 2.60, 2.90, 3.05, 2.65, 2.80, 2.75, 2.80, 2.75, 2.95, 2.45,
             2.60, 2.65, 2.55, 2.90, 2.60, 2.60, 2.80, 2.55, 2.90, 2.50, 2.95, 2.65, 2.55, 3.05, 2.60, 2.55,
             2.65, 2.50, 2.85, 2.60, 2.40, 2.35, 2.40, 2.60, 2.75, 2.95, 2.60, 2.70, 2.55, 3.20, 2.65, 2.45]
p35_lower = [-0.57, -0.58, -0.57, -0.56, -0.57, -0.58, -0.57, -0.56, -0.57, -0.58, -0.59, -0.57, -0.56, -0.57, -0.58, -0.57,
             -0.56, -0.57, -0.58, -0.57, -0.56, -0.58, -0.57, -0.56, -0.57, -0.58, -0.57, -0.56, -0.57, -0.58, -0.57, -0.56,
             -0.57, -0.58, -0.57, -0.56, -0.57, -0.58, -0.57, -0.56, -0.57, -0.58, -0.57, -0.56, -0.57, -0.58, -0.57, -0.57]
p35_obs_x = [3, 11, 25, 46]
p35_obs_y = [-0.38, -0.51, -0.47, -0.43]
p35_yticks = [0, 1, 2, 3]
p35_ydec = 0

N_PANELS = 35
N_COLS = 4

GREEN = "#008000"
GREY = "#808080"
FONT = "DejaVu Sans"

FRAME_W = 290
FRAME_H = 182


def get(name, default=None):
    return globals().get(name, default)


bad = []
for i in range(1, N_PANELS + 1):
    pre = "p%02d_" % i
    for key in ("mean", "upper", "lower"):
        if len(get(pre + key)) != len(STEPS):
            bad.append((pre + key, len(get(pre + key))))
    if len(get(pre + "obs_x", [])) != len(get(pre + "obs_y", [])):
        bad.append((pre + "obs", len(get(pre + "obs_x", [])), len(get(pre + "obs_y", []))))
if bad:
    raise ValueError("length mismatch: %r" % bad)


def make_panel(i, row, col, n_rows):
    pre = "p%02d_" % i
    mean = get(pre + "mean")
    upper = get(pre + "upper")
    lower = get(pre + "lower")
    obs_x = get(pre + "obs_x", [])
    obs_y = get(pre + "obs_y", [])
    anom_x = get(pre + "anom_x", [])
    anom_y = get(pre + "anom_y", [])
    base = get(pre + "base", 0.0)
    grey_up = get(pre + "grey_upper")
    grey_lo = get(pre + "grey_lower")
    yticks = get(pre + "yticks")
    ydec = get(pre + "ydec", 0)

    dashed = [base for _ in STEPS]
    for ax, ay in zip(anom_x, anom_y):
        dashed[ax] = ay

    vals = list(mean) + list(upper) + list(lower) + dashed + list(obs_y) + list(anom_y)
    if grey_up:
        vals += list(grey_up) + list(grey_lo)
    lo, hi = min(vals), max(vals)
    pad = 0.05 * (hi - lo)

    # row pitch of 221 px; the whole page stays shorter than the window
    top = 9 if row == 0 else 6
    bottom = 24 if row == n_rows - 1 else 33

    p = figure(frame_width=FRAME_W, frame_height=FRAME_H,
               x_range=Range1d(-2.35, 49.35), y_range=Range1d(lo - pad, hi + pad),
               output_backend="svg", toolbar_location=None,
               min_border_left=67 if col == 0 else 58, min_border_right=0,
               min_border_top=top, min_border_bottom=bottom,
               background_fill_color="white", border_fill_color="white")
    p.xgrid.visible = False
    p.ygrid.visible = False
    p.outline_line_color = "black"
    p.outline_line_alpha = 1.0
    p.outline_line_width = 1

    if grey_up:
        p.varea(x=STEPS, y1=grey_lo, y2=grey_up, fill_color=GREY, fill_alpha=0.3)
    p.varea(x=STEPS, y1=lower, y2=upper, fill_color=GREEN, fill_alpha=0.3)
    p.line(STEPS, mean, line_color=GREEN, line_width=1.5)
    # faint strip under the dashed baseline (its narrow grey band)
    p.line(STEPS, dashed, line_color=GREY, line_width=4, line_alpha=0.25)
    p.line(STEPS, dashed, line_color=GREY, line_width=1.6, line_dash="6 2")
    if obs_x:
        p.scatter(obs_x, obs_y, marker="circle", size=8.5, fill_color="#0000ff", line_color="#0000ff")
    if anom_x:
        p.scatter(anom_x, anom_y, marker="x", size=8, line_color="#ff0000", line_width=1.2)

    p.xaxis.ticker = FixedTicker(ticks=X_TICKS)
    p.yaxis.ticker = FixedTicker(ticks=yticks)
    p.yaxis.formatter = CustomJSTickFormatter(args=dict(dec=ydec), code="""
        const s = Math.abs(tick).toFixed(dec);
        return (tick < -1e-12 ? "\\u2212" : "") + s;
    """)
    for ax in (p.xaxis[0], p.yaxis[0]):
        ax.axis_line_color = "black"
        ax.major_tick_line_color = "black"
        ax.minor_tick_line_color = None
        ax.major_tick_out = 5
        ax.major_tick_in = 0
        ax.major_label_standoff = 3
        ax.major_label_text_font = FONT
        ax.major_label_text_font_size = "15px"
        ax.major_label_text_color = "black"
    if col == 0:
        p.yaxis.axis_label = "value"
        p.yaxis.axis_label_text_font = FONT
        p.yaxis.axis_label_text_font_size = "15px"
        p.yaxis.axis_label_text_font_style = "normal"
        p.yaxis.axis_label_text_color = "black"
        p.yaxis.axis_label_standoff = 5
    return p


n_rows = (N_PANELS + N_COLS - 1) // N_COLS
rows = []
for r in range(n_rows):
    row = []
    for c in range(N_COLS):
        i = r * N_COLS + c + 1
        if i <= N_PANELS:
            row.append(make_panel(i, r, c, n_rows))
        else:
            row.append(None)
    rows.append(row)

grid = gridplot(rows, toolbar_location=None)

with open("out.html", "w") as f:
    f.write(file_html(grid, INLINE))
